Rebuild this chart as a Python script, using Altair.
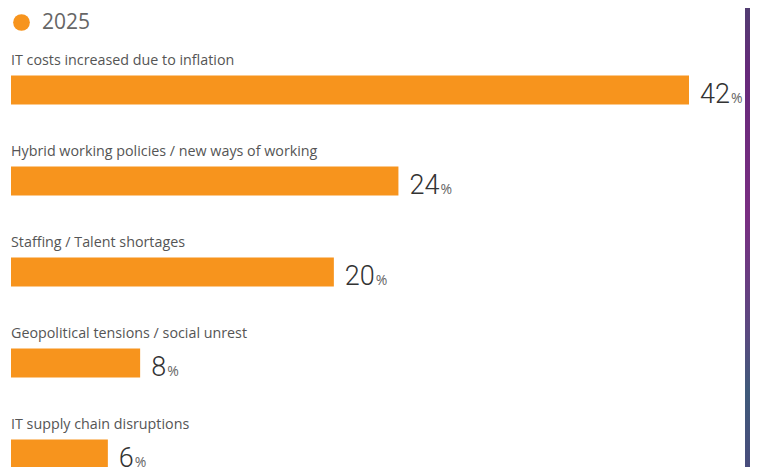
import altair as alt
import pandas as pd

categories = [
    "IT costs increased due to inflation",
    "Hybrid working policies / new ways of working",
    "Staffing / Talent shortages",
    "Geopolitical tensions / social unrest",
    "IT supply chain disruptions",
]
values = [42, 24, 20, 8, 6]
series_name = "2025"

df = pd.DataFrame({
    "category": categories,
    "value": values,
    "idx": list(range(len(values))),
    "series": [series_name] * len(values),
})

ORANGE = "#F7941D"
xscale = alt.Scale(domain=[0, 42], range=[3, 681], nice=False, zero=False, padding=0)
yscale = alt.Scale(domain=[0, 4], range=[82, 446], nice=False, zero=False, padding=0)

base = alt.Chart(df).encode(
    y=alt.Y("idx:Q", scale=yscale, axis=None),
)

bars = base.mark_bar(orient="horizontal", size=29).encode(
    x=alt.X("value:Q", scale=xscale, axis=None),
    x2=alt.datum(0),
    color=alt.Color(
        "series:N",
        scale=alt.Scale(range=[ORANGE]),
        legend=alt.Legend(
            title=None, orient="none", legendX=3, legendY=4,
            symbolType="circle", symbolSize=280, symbolStrokeWidth=0,
            symbolOpacity=1, labelFontSize=21, labelColor="#666666",
            labelFont="Open Sans", labelOffset=10, padding=0,
        ),
    ),
)

cat_labels = base.mark_text(
    align="left", baseline="middle", dy=-29, fontSize=14.3,
    font="Open Sans", color="#555555",
).encode(
    x=alt.value(3),
    text="category:N",
)

nums = base.mark_text(
    align="left", baseline="alphabetic", dx=11, dy=12.5, fontSize=27,
    font="Roboto", fontWeight=300, color="#333333",
).encode(
    x=alt.X("value:Q", scale=xscale),
    text="value:Q",
)

pct = base.transform_calculate(
    xp="datum.value + (12 + length(toString(datum.value)) * 15.0) / 16.143"
).mark_text(
    align="left", baseline="alphabetic", dy=12.5, fontSize=14,
    font="Open Sans", color="#666666",
).encode(
    x=alt.X("xp:Q", scale=xscale),
    text=alt.value("%"),
)

strip = alt.Chart(df).mark_rect(
    fill=alt.Gradient(
        gradient="linear", x1=0, x2=0, y1=0, y2=1,
        stops=[
            alt.GradientStop(offset=0, color="#4f3f70"),
            alt.GradientStop(offset=0.15, color="#66297a"),
            alt.GradientStop(offset=0.45, color="#7a2e82"),
            alt.GradientStop(offset=0.7, color="#5a4a80"),
            alt.GradientStop(offset=0.82, color="#3f5a7a"),
            alt.GradientStop(offset=1, color="#4a4a7c"),
        ],
    )
).encode(
    x=alt.value(737), x2=alt.value(742), y=alt.value(-8), y2=alt.value(470),
)

chart = alt.layer(bars, cat_labels, nums, pct, strip).properties(
    width=742, height=459, padding=0, background="white",
    autosize=alt.AutoSizeParams(type="none"),
).configure_view(stroke=None)

chart.save("out.html", embed_options={"renderer": "svg", "actions": False})
